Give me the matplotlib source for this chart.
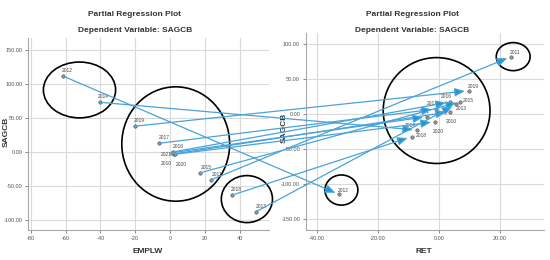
import matplotlib
matplotlib.use("Agg")
import matplotlib.pyplot as plt
from matplotlib.patches import Ellipse, ConnectionPatch
from matplotlib.ticker import FormatStrFormatter

plt.rcParams['font.family'] = ['Liberation Sans Narrow', 'Liberation Sans', 'DejaVu Sans']

# ---- data ----
years = ['2010', '2011', '2012', '2013', '2014', '2015', '2016', '2017', '2018', '2019', '2020', '2021']
emplw = [2.1, 23.3, -61.3, 49.4, -40.5, 17.5, 1.5, -6.3, 35.7, -20.3, 2.7, 1.3]
sagcb_left = [-3.4, -41.6, 110.9, -88.2, 72.6, -30.9, -0.5, 12.3, -63.7, 37.4, -3.8, -1.5]
ret = [3.6, 23.6, -32.7, 5.6, -7.2, 6.9, 3.6, -1.0, -9.0, 9.8, -1.3, -3.9]
sagcb_right = [3.7, 82.3, -114.3, 14.3, -22.4, 18.0, 17.6, 7.6, -32.0, 33.7, -10.6, -3.4]

left_xticks = [-80, -60, -40, -20, 0, 20, 40]
left_yticks = [-100, -50, 0, 50, 100, 150]
right_xticks = [-40, -20, 0, 20]
right_yticks = [-150, -100, -50, 0, 50, 100]

# ellipse annotations (center x, center y, width, height) in data units
left_ellipses = [(-52, 90.7, 41.5, 82), (3.3, 11.3, 62, 168), (44.2, -69.6, 29.4, 69)]
right_ellipses = [(24.3, 82.3, 11.1, 40), (-0.8, 5.4, 35, 151), (-32, -108, 10.8, 43)]

# label offsets (points)
left_offsets = {'2010': (-5, -7), '2011': (5, 4), '2012': (3, 4), '2013': (4, 4), '2014': (3, 4),
                '2015': (4, 4), '2016': (4, 4), '2017': (4, 4), '2018': (3, 4), '2019': (3, 4),
                '2020': (5, -7), '2021': (-4, -1)}
right_offsets = {'2010': (1, -7), '2011': (3, 3), '2012': (3, 3), '2013': (4, -3), '2014': (-5, 3),
                 '2015': (6, 1), '2016': (-3, 4), '2017': (-3, 4), '2018': (7, 1), '2019': (3, 3),
                 '2020': (2, -7), '2021': (-2, 4)}

line_col = '#4aa3d8'
head_col = '#2196d6'
grid_col = '#dadada'
spine_col = '#a8a8a8'

fig = plt.figure(figsize=(5.5, 2.6), dpi=100)
ax1 = fig.add_axes([28 / 550, 1 - 230 / 260, (269 - 28) / 550, (230 - 38) / 260])
ax2 = fig.add_axes([305.7 / 550, 1 - 230 / 260, (543.7 - 305.7) / 550, (230 - 33) / 260])


def style(ax, xt, yt, xfmt, yfmt):
    ax.set_xticks(xt)
    ax.set_yticks(yt)
    ax.xaxis.set_major_formatter(FormatStrFormatter(xfmt))
    ax.yaxis.set_major_formatter(FormatStrFormatter(yfmt))
    ax.grid(True, color=grid_col, lw=0.8)
    ax.set_axisbelow(True)
    for s in ['top', 'right']:
        ax.spines[s].set_visible(False)
    for s in ['left', 'bottom']:
        ax.spines[s].set_color(spine_col)
        ax.spines[s].set_linewidth(0.8)
    ax.tick_params(labelsize=4, colors='#555555', length=2, width=0.5, pad=2)


style(ax1, left_xticks, left_yticks, '%d', '%.2f')
ax1.set_xlim(-81.6, 56.9)
ax1.set_ylim(-115, 167)
style(ax2, right_xticks, right_yticks, '%.2f', '%.2f')
ax2.set_xlim(-43.7, 34.3)
ax2.set_ylim(-165, 116)

for ax, xs, ys, offs in [(ax1, emplw, sagcb_left, left_offsets), (ax2, ret, sagcb_right, right_offsets)]:
    ax.scatter(xs, ys, s=6, facecolor='#9a9a9a', edgecolor='#444444', linewidths=0.4, zorder=3)
    for yr, x, y in zip(years, xs, ys):
        ax.annotate(yr, (x, y), xytext=offs[yr], textcoords='offset points', fontsize=3.5,
                    color='#444444', ha='center', va='center')

for ax, ells in [(ax1, left_ellipses), (ax2, right_ellipses)]:
    for cx, cy, w, h in ells:
        ax.add_patch(Ellipse((cx, cy), w, h, fill=False, edgecolor='black', lw=1.2,
                             clip_on=False, zorder=4))

for i, yr in enumerate(years):
    cp = ConnectionPatch(xyA=(emplw[i], sagcb_left[i]), coordsA=ax1.transData,
                         xyB=(ret[i], sagcb_right[i]), coordsB=ax2.transData,
                         arrowstyle='-|>,head_length=0.6,head_width=0.25', mutation_scale=10,
                         color=line_col, lw=0.9, shrinkA=0, shrinkB=3, zorder=5)
    cp.set_facecolor(head_col)
    fig.add_artist(cp)

# titles and labels
for cx in [135, 412]:
    fig.text(cx / 550, 1 - 15 / 260, 'Partial Regression Plot', ha='center', va='center',
             fontsize=6, fontweight='bold', color='#333333')
    fig.text(cx / 550, 1 - 31 / 260, 'Dependent Variable: SAGCB', ha='center', va='center',
             fontsize=6, fontweight='bold', color='#333333')

fig.text(148 / 550, 1 - 251.7 / 260, 'EMPLW', ha='center', va='center', fontsize=6,
         fontweight='bold', color='#333333')
fig.text(424 / 550, 1 - 251.7 / 260, 'RET', ha='center', va='center', fontsize=6,
         fontweight='bold', color='#333333')
fig.text(6 / 550, 1 - 131.7 / 260, 'SAGCB', ha='center', va='center', rotation=90, fontsize=6,
         fontweight='bold', color='#333333')
fig.text(284 / 550, 1 - 128 / 260, 'SAGCB', ha='center', va='center', rotation=90, fontsize=6,
         fontweight='bold', color='#333333')

fig.savefig('out.png', dpi=100)
